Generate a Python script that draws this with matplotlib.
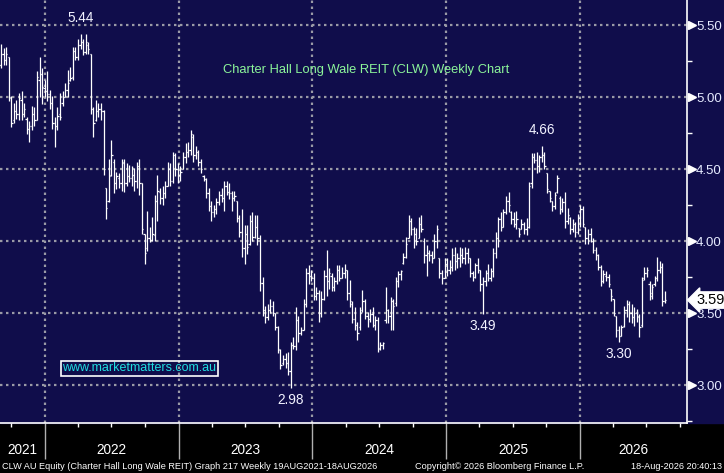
import matplotlib
matplotlib.use("Agg")
import matplotlib.pyplot as plt
import matplotlib.dates as mdates
from matplotlib.patches import Rectangle
import pandas as pd
import numpy as np

# ---------------- data (weekly OHLC, CLW AU) ----------------
start_date = "2021-08-20"
highs = [5.36,5.36,5.37,5.34,5.35,5.28,5.01,4.96,4.98,5.03,
         5.04,4.96,4.86,4.83,4.94,4.93,5.18,5.28,5.20,5.12,
         5.18,5.05,5.01,4.86,4.93,5.03,5.04,5.10,5.19,5.21,
         5.35,5.35,5.40,5.44,5.40,5.44,5.38,5.30,4.93,4.98,
         4.96,4.96,4.91,4.37,4.57,4.70,4.57,4.48,4.47,4.57,
         4.57,4.54,4.53,4.52,4.51,4.55,4.57,4.40,4.05,4.21,
         4.10,4.17,4.32,4.46,4.37,4.38,4.42,4.55,4.54,4.62,
         4.61,4.54,4.52,4.62,4.68,4.69,4.77,4.74,4.66,4.63,
         4.57,4.46,4.44,4.37,4.28,4.25,4.30,4.35,4.37,4.42,
         4.42,4.40,4.35,4.35,4.28,4.18,4.22,4.11,4.11,4.18,
         4.20,4.18,4.18,4.04,3.75,3.55,3.56,3.60,3.58,3.50,
         3.41,3.25,3.21,3.22,3.23,3.30,3.33,3.54,3.48,3.40,
         3.60,3.81,3.83,3.80,3.78,3.68,3.66,3.65,3.80,3.94,
         3.81,3.78,3.75,3.83,3.83,3.82,3.84,3.80,3.73,3.58,
         3.54,3.44,3.54,3.66,3.60,3.51,3.53,3.54,3.48,3.47,
         3.30,3.30,3.68,3.53,3.61,3.60,3.75,3.79,3.80,3.92,
         4.03,4.18,4.16,4.10,4.09,4.17,4.18,4.02,3.97,3.94,
         3.93,4.05,4.11,3.88,3.80,3.88,3.88,3.87,3.95,3.96,
         3.92,3.96,3.95,3.96,3.95,3.88,3.79,3.85,3.88,3.80,
         3.75,3.80,3.84,3.81,3.95,4.06,4.17,4.20,4.22,4.31,
         4.34,4.21,4.20,4.21,4.09,4.15,4.13,4.16,4.41,4.61,
         4.61,4.62,4.60,4.66,4.62,4.47,4.35,4.28,4.34,4.46,
         4.31,4.30,4.34,4.23,4.17,4.15,4.13,4.19,4.25,4.24,
         4.10,4.08,4.09,4.02,3.96,3.91,3.83,3.80,3.79,3.77,
         3.67,3.60,3.48,3.41,3.42,3.55,3.59,3.58,3.56,3.54,
         3.53,3.49,3.75,3.82,3.82,3.72,3.70,3.76,3.89,3.86,
         3.85,3.65]
lows = [5.20,5.16,5.20,5.22,5.22,4.97,4.79,4.82,4.85,4.84,
        4.84,4.86,4.74,4.69,4.77,4.80,4.84,5.00,4.95,5.00,
        4.97,4.92,4.78,4.65,4.77,4.84,4.94,5.00,5.00,5.11,
        5.12,5.26,5.26,5.33,5.29,5.30,5.30,4.88,4.72,4.83,
        4.86,4.84,4.46,4.15,4.27,4.45,4.33,4.36,4.37,4.35,
        4.34,4.38,4.41,4.38,4.35,4.37,4.32,4.05,3.84,3.93,
        3.99,4.00,4.00,4.14,4.26,4.25,4.30,4.38,4.38,4.40,
        4.45,4.40,4.42,4.50,4.54,4.58,4.60,4.55,4.57,4.52,
        4.47,4.42,4.30,4.21,4.14,4.17,4.19,4.25,4.27,4.21,
        4.32,4.29,4.21,4.28,4.13,4.03,3.89,3.84,3.91,3.97,
        4.00,4.02,3.97,3.65,3.48,3.43,3.45,3.50,3.48,3.38,
        3.22,3.11,3.14,3.12,3.07,2.98,3.25,3.24,3.30,3.35,
        3.38,3.54,3.70,3.72,3.59,3.59,3.44,3.47,3.59,3.62,
        3.67,3.65,3.65,3.70,3.72,3.74,3.74,3.59,3.54,3.43,
        3.38,3.31,3.38,3.51,3.46,3.40,3.44,3.40,3.38,3.23,
        3.24,3.25,3.43,3.43,3.38,3.38,3.55,3.68,3.73,3.84,
        3.88,4.02,4.04,3.95,3.97,4.02,4.06,3.85,3.76,3.86,
        3.85,3.88,3.95,3.74,3.70,3.74,3.76,3.77,3.79,3.80,
        3.81,3.82,3.85,3.84,3.85,3.75,3.72,3.74,3.78,3.65,
        3.49,3.69,3.72,3.72,3.75,3.88,3.96,4.07,4.10,4.19,
        4.20,4.12,4.10,4.08,4.03,4.08,4.05,4.04,4.09,4.37,
        4.54,4.47,4.48,4.55,4.50,4.33,4.27,4.21,4.22,4.33,
        4.19,4.20,4.09,4.12,4.05,4.06,4.03,4.05,4.10,4.10,
        3.98,3.98,3.99,3.92,3.87,3.80,3.69,3.71,3.72,3.68,
        3.58,3.48,3.33,3.30,3.34,3.40,3.47,3.44,3.43,3.41,
        3.44,3.33,3.40,3.73,3.75,3.59,3.60,3.69,3.72,3.78,
        3.55,3.57]
opens = [5.22,5.30,5.22,5.30,5.26,5.28,4.99,4.84,4.90,4.88,
         4.98,4.88,4.85,4.78,4.80,4.88,4.84,5.12,5.16,5.06,
         5.04,5.02,4.96,4.82,4.80,4.88,4.96,5.00,5.05,5.12,
         5.14,5.32,5.28,5.36,5.38,5.31,5.36,5.30,4.92,4.84,
         4.90,4.92,4.90,4.37,4.28,4.46,4.55,4.40,4.44,4.40,
         4.54,4.40,4.45,4.44,4.46,4.42,4.52,4.40,4.05,3.95,
         4.02,4.01,4.04,4.28,4.34,4.30,4.33,4.38,4.50,4.42,
         4.60,4.50,4.46,4.50,4.58,4.62,4.63,4.72,4.60,4.62,
         4.55,4.45,4.43,4.33,4.24,4.20,4.22,4.27,4.32,4.30,
         4.38,4.34,4.33,4.30,4.28,4.16,4.06,3.95,4.05,3.98,
         4.14,4.03,4.10,4.02,3.71,3.52,3.47,3.52,3.55,3.50,
         3.40,3.24,3.15,3.18,3.15,3.10,3.28,3.27,3.45,3.36,
         3.38,3.56,3.78,3.76,3.74,3.62,3.64,3.50,3.60,3.76,
         3.72,3.76,3.68,3.72,3.80,3.74,3.78,3.80,3.64,3.56,
         3.46,3.42,3.40,3.52,3.58,3.48,3.46,3.49,3.42,3.45,
         3.26,3.28,3.45,3.52,3.48,3.58,3.57,3.72,3.77,3.85,
         3.89,4.02,4.14,4.08,4.05,4.02,4.12,4.00,3.90,3.92,
         3.90,3.88,4.00,3.88,3.78,3.74,3.84,3.80,3.82,3.90,
         3.86,3.88,3.90,3.88,3.92,3.88,3.78,3.75,3.83,3.80,
         3.70,3.72,3.78,3.74,3.79,3.92,4.02,4.15,4.10,4.20,
         4.28,4.20,4.15,4.12,4.09,4.08,4.12,4.08,4.10,4.40,
         4.58,4.56,4.52,4.58,4.60,4.47,4.35,4.28,4.24,4.34,
         4.30,4.22,4.27,4.14,4.16,4.08,4.12,4.06,4.16,4.22,
         4.10,4.02,4.05,4.00,3.94,3.90,3.82,3.72,3.76,3.75,
         3.67,3.60,3.48,3.38,3.34,3.41,3.52,3.56,3.50,3.47,
         3.50,3.47,3.42,3.74,3.78,3.70,3.62,3.70,3.74,3.80,
         3.82,3.58]
closes = [5.32,5.22,5.30,5.26,5.30,5.00,4.82,4.90,4.88,4.99,
          4.88,4.92,4.78,4.80,4.88,4.84,5.14,5.16,5.07,5.04,
          5.02,4.96,4.82,4.80,4.87,4.86,5.00,5.05,5.10,5.13,
          5.32,5.28,5.36,5.38,5.31,5.38,5.33,4.92,4.82,4.90,
          4.92,4.90,4.50,4.23,4.45,4.60,4.40,4.45,4.40,4.55,
          4.40,4.45,4.44,4.46,4.42,4.52,4.40,4.08,3.92,4.02,
          4.01,4.05,4.28,4.35,4.30,4.33,4.38,4.50,4.42,4.60,
          4.50,4.46,4.48,4.58,4.62,4.63,4.74,4.60,4.62,4.55,
          4.50,4.43,4.33,4.24,4.20,4.22,4.27,4.32,4.30,4.38,
          4.34,4.33,4.30,4.31,4.16,4.06,3.95,4.05,3.96,4.14,
          4.03,4.10,4.02,3.71,3.52,3.47,3.52,3.55,3.50,3.40,
          3.25,3.14,3.18,3.15,3.10,3.28,3.27,3.45,3.36,3.38,
          3.56,3.78,3.76,3.74,3.62,3.64,3.50,3.60,3.76,3.72,
          3.78,3.68,3.72,3.80,3.74,3.78,3.80,3.64,3.58,3.46,
          3.42,3.36,3.50,3.58,3.48,3.46,3.49,3.42,3.45,3.25,
          3.28,3.29,3.52,3.48,3.58,3.55,3.72,3.77,3.79,3.89,
          3.98,4.14,4.08,4.05,4.00,4.12,4.08,3.90,3.92,3.90,
          3.88,4.00,4.08,3.78,3.74,3.84,3.80,3.82,3.90,3.86,
          3.88,3.90,3.88,3.92,3.88,3.78,3.75,3.83,3.80,3.70,
          3.72,3.78,3.74,3.79,3.92,4.02,4.15,4.10,4.20,4.28,
          4.25,4.15,4.12,4.15,4.05,4.12,4.08,4.10,4.38,4.58,
          4.56,4.52,4.58,4.60,4.52,4.36,4.30,4.24,4.32,4.44,
          4.22,4.27,4.14,4.18,4.08,4.12,4.06,4.16,4.22,4.12,
          4.02,4.05,4.00,3.94,3.90,3.82,3.72,3.77,3.75,3.70,
          3.62,3.50,3.38,3.34,3.40,3.52,3.56,3.50,3.47,3.50,
          3.48,3.40,3.73,3.78,3.80,3.64,3.68,3.74,3.80,3.82,
          3.58,3.59]

y_ticks = [3.00, 3.50, 4.00, 4.50, 5.00, 5.50]
y_minor = [2.75, 3.25, 3.75, 4.25, 4.75, 5.25]
years = [2021, 2022, 2023, 2024, 2025, 2026]
extreme_labels = [(33, "high"), (213, "high"), (190, "low"), (115, "low"), (243, "low")]
last_price = closes[-1]

title = "Charter Hall Long Wale REIT (CLW) Weekly Chart"
website = "www.marketmatters.com.au"
footer_left = "CLW AU Equity (Charter Hall Long Wale REIT) Graph 217 Weekly 19AUG2021-18AUG2026"
footer_mid = "Copyright\u00a9 2026 Bloomberg Finance L.P."
footer_right = "18-Aug-2026 20:40:13"

# ---------------- styling ----------------
plt.rcParams["font.family"] = ["Liberation Sans", "DejaVu Sans"]

NAVY = "#100d4b"
GRID = "#9a9aa6"
W, H = 724, 473
fig = plt.figure(figsize=(W / 100, H / 100), dpi=100, facecolor="black")
ax_bottom_px = 423
ax = fig.add_axes([0, (H - ax_bottom_px) / H, 687 / W, ax_bottom_px / H])
fig.patches.append(Rectangle((0, (H - ax_bottom_px) / H), 1, ax_bottom_px / H,
                             transform=fig.transFigure, color=NAVY, zorder=-10))
ax.set_facecolor(NAVY)

dates = pd.date_range(start_date, periods=len(closes), freq="7D")
x = mdates.date2num(dates)
o = np.array(opens); h = np.array(highs); l = np.array(lows); c = np.array(closes)

tick_days = 3.4
ax.vlines(x, l, h, color="white", lw=0.9, zorder=3)
ax.hlines(o, x - tick_days, x, color="white", lw=0.9, zorder=3)
ax.hlines(c, x, x + tick_days, color="white", lw=0.9, zorder=3)

# axis limits (pixel-calibrated)
days_per_px = (mdates.date2num(pd.Timestamp("2026-01-01")) - mdates.date2num(pd.Timestamp("2022-01-01"))) / 535.0
x0 = mdates.date2num(pd.Timestamp("2022-01-01")) - 45 * days_per_px
x1 = mdates.date2num(pd.Timestamp("2026-01-01")) + 107 * days_per_px
ax.set_xlim(x0, x1)
ax.set_ylim(3.00 - 38 / 144, 5.50 + 25 / 144)

# grid
year_starts = [mdates.date2num(pd.Timestamp(f"{y}-01-01")) for y in years[1:]]
for yv in y_ticks:
    ax.axhline(yv, color=GRID, lw=1.6, ls=(0, (1.1, 1.6)), zorder=1)
for xv in year_starts:
    ax.axvline(xv, color=GRID, lw=1.6, ls=(0, (1.1, 1.6)), zorder=1)

# spines
for s in ["top", "left"]:
    ax.spines[s].set_visible(False)
ax.spines["right"].set_color("white")
ax.spines["bottom"].set_color("white")
ax.spines["right"].set_linewidth(1.2)
ax.spines["bottom"].set_linewidth(1.2)

# y axis on right
ax.yaxis.tick_right()
ax.set_yticks(y_ticks)
ax.set_yticklabels([f"{v:.2f}" for v in y_ticks])
ax.set_yticks(y_minor, minor=True)
ax.tick_params(axis="y", which="major", length=0, pad=6.5, labelsize=9.5, labelcolor="#e6ebff")
ax.tick_params(axis="y", which="minor", length=3.5, width=1, color="white", direction="out")
ax.plot(np.full(len(y_ticks), 1.0 + 4.5 / 687), y_ticks, marker=">", ms=6, color="white",
        ls="none", transform=ax.get_yaxis_transform(), clip_on=False, zorder=5)

# x axis
quarters = [mdates.date2num(pd.Timestamp(f"{y}-{m:02d}-01")) for y in range(2021, 2027) for m in (1, 4, 7, 10)]
quarters = [q for q in quarters if x0 < q < x1]
ax.set_xticks(year_starts)
ax.set_xticklabels([])
ax.set_xticks(quarters, minor=True)
ax.tick_params(axis="x", which="major", length=26, width=1, color="#b0b0b0", direction="out")
ax.tick_params(axis="x", which="minor", length=3, width=1, color="white", direction="out")

# year labels centred on visible span of each year
bounds = [x0] + year_starts + [x1]
for i, yr in enumerate(years):
    ax.text((bounds[i] + bounds[i + 1]) / 2, -27 / ax_bottom_px, str(yr), transform=ax.get_xaxis_transform(),
            ha="center", va="center", color="white", fontsize=9.8)

# extreme labels
for idx, kind in extreme_labels:
    if kind == "high":
        val, dy, va = highs[idx], 9, "bottom"
    else:
        val, dy, va = lows[idx], -5, "top"
    ax.annotate(f"{val:.2f}", (x[idx], val), xytext=(0, dy), textcoords="offset pixels",
                ha="center", va=va, color="#f2f2ff", fontsize=9.8, zorder=6)

# last price tag
ax.annotate(f"{last_price:.2f}", xy=(1.0, last_price), xycoords=ax.get_yaxis_transform(),
            xytext=(9, 0), textcoords="offset pixels", ha="left", va="center",
            fontsize=10.5, color="black", annotation_clip=False, zorder=7,
            bbox=dict(boxstyle="larrow,pad=0.08", fc="white", ec="white"))

# title and website
fig.text(366 / W, 1 - 70 / H, title, ha="center", va="center", color="#8cf59a", fontsize=9.3)
fig.text(139.5 / W, 1 - 368 / H, website, ha="center", va="center", color="#20dde0",
         fontsize=9.0, bbox=dict(boxstyle="square,pad=0.12", fc="none", ec="white", lw=1.2))

# footer
fy = 1 - 466 / H
fig.text(2 / W, fy, footer_left, ha="left", va="center", color="white", fontsize=6.6)
fig.text(500 / W, fy, footer_mid, ha="center", va="center", color="white", fontsize=6.6)
fig.text(722 / W, fy, footer_right, ha="right", va="center", color="white", fontsize=6.6)

fig.savefig("out.png", dpi=100, facecolor="black")
